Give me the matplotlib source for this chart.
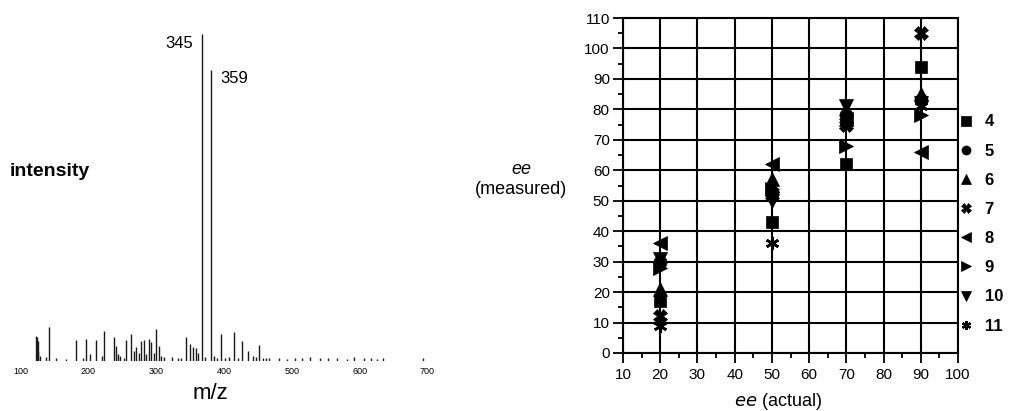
import matplotlib
matplotlib.use('Agg')
import matplotlib.pyplot as plt
from matplotlib.lines import Line2D
from matplotlib.transforms import ScaledTranslation

plt.rcParams['font.family'] = ['Liberation Sans', 'DejaVu Sans']

# ---------------- mass spectrum data ----------------
mz = [101, 102, 103, 104, 106, 115, 120, 130, 145, 160, 170, 174, 180, 189, 198,
      201, 216, 219, 222, 225, 230, 233, 241, 245, 248, 252, 256, 260, 263, 268,
      270, 274, 278, 282, 285, 290, 301, 310, 315, 322, 328, 332, 337, 340, 345,
      350, 359, 363, 367, 373, 380, 385, 392, 398, 405, 413, 420, 425, 429, 436,
      440, 445, 459, 471, 483, 493, 505, 520, 532, 545, 559, 569, 584, 594, 604,
      613, 671]
intensity = [7.6, 7.2, 6.0, 3.0, 1.5, 1.2, 10.4, 0.8, 0.6, 6.4, 1.0, 6.7, 2.0, 6.4, 1.5,
             9.2, 7.3, 4.6, 2.0, 1.5, 1.0, 6.4, 8.3, 3.0, 4.3, 2.5, 6.1, 6.4, 2.0, 6.7,
             5.8, 2.5, 9.8, 4.6, 1.5, 1.2, 1.2, 1.0, 0.8, 7.3, 5.2, 4.3, 4.0, 2.5, 100.0,
             1.2, 89.0, 1.5, 1.0, 8.3, 1.0, 1.2, 8.9, 1.0, 6.1, 3.1, 1.5, 1.2, 4.9, 0.9,
             1.0, 0.8, 0.9, 0.7, 1.0, 0.8, 1.1, 0.8, 0.9, 1.0, 0.7, 1.2, 0.8, 1.0, 0.7,
             0.8, 0.9]
mz_ticks = [100, 200, 300, 400, 500, 600, 700]
peak_mz = [345, 359]
peak_text = ['345', '359']

# ---------------- ee scatter data ----------------
ee_actual = [20, 50, 70, 90]
ee_4 = [17, 43, 62, 94]
ee_5 = [30, 53, 78, 83]
ee_6 = [21, 57, 77, 85]
ee_7 = [12, 52, 75, 105]
ee_8 = [36, 62, 77, 66]
ee_9 = [28, 54, 68, 78]
ee_10 = [31, 50, 81, 82]
ee_11 = [9, 36, 76, 81]
compound_names = ['4', '5', '6', '7', '8', '9', '10', '11']
ee_series = [ee_4, ee_5, ee_6, ee_7, ee_8, ee_9, ee_10, ee_11]
markers = ['s', 'o', '^', 'X', '<', '>', 'v', (6, 2, 0)]
msizes = [8.5, 9.5, 9.5, 9.5, 9.5, 9.5, 9.5, 9.5]

W, H = 1013, 411
fig = plt.figure(figsize=(W / 100, H / 100), dpi=100)

# ---------------- left: spectrum ----------------
axs = fig.add_axes([0, 1 - 361 / H, 460 / W, 341 / H])
axs.vlines(mz, 0, intensity, colors='#1a1a1a', linewidth=1.0)
axs.set_xlim(47.5, 726)
axs.set_ylim(0, 104.3)
for s in axs.spines.values():
    s.set_visible(False)
axs.set_yticks([])
axs.set_xticks(mz_ticks)
axs.set_xticklabels([str(t) for t in mz_ticks])
axs.tick_params(axis='x', length=0, pad=4, labelsize=6.5)
off = ScaledTranslation(-0.15, 0, fig.dpi_scale_trans)
for lab in axs.get_xticklabels():
    lab.set_transform(lab.get_transform() + off)
axs.annotate(peak_text[0], xy=(peak_mz[0], intensity[mz.index(peak_mz[0])]),
             xytext=(-6, -6.5), textcoords='offset points', ha='right', va='center',
             fontsize=12)
axs.annotate(peak_text[1], xy=(peak_mz[1], intensity[mz.index(peak_mz[1])]),
             xytext=(6.5, -6), textcoords='offset points', ha='left', va='center',
             fontsize=12)
fig.text(10 / W, 1 - 172 / H, 'intensity', fontsize=14, fontweight='bold',
         ha='left', va='center')
fig.text(210 / W, 1 - 393 / H, 'm/z', fontsize=16, ha='center', va='center')

# ---------------- right: ee scatter ----------------
ax = fig.add_axes([623 / W, 1 - 353 / H, 335 / W, 335 / H])
ax.set_xlim(10, 100)
ax.set_ylim(0, 110)
ax.set_xticks(range(10, 101, 10))
ax.set_yticks(range(0, 111, 10))
ax.set_xticks(range(15, 100, 10), minor=True)
ax.set_yticks(range(5, 110, 10), minor=True)
ax.grid(True, which='major', color='black', linewidth=1.5)
ax.set_axisbelow(True)
ax.tick_params(which='major', direction='out', length=7, width=1.3, labelsize=11,
               pad=3.5, color='black')
ax.tick_params(axis='y', which='major', pad=2.5)
ax.tick_params(which='minor', direction='out', length=3.5, width=1.3, color='black')
for s in ax.spines.values():
    s.set_linewidth(1.5)

for vals, m, msz in zip(ee_series, markers, msizes):
    ax.plot(ee_actual, vals, linestyle='none', marker=m, color='black',
            markersize=msz, markeredgewidth=1.9 if m == (6, 2, 0) else 0.5,
            zorder=3, clip_on=False)

handles = [Line2D([], [], linestyle='none', marker=m, color='black',
                  markersize=6.5, markeredgewidth=1.6 if m == (6, 2, 0) else 0.5)
           for m in markers]
leg = ax.legend(handles, compound_names, loc='center left',
                bbox_to_anchor=(1.0, (353 - 224) / 335), frameon=False,
                borderpad=0, borderaxespad=0, handlelength=1.0, handletextpad=0.6,
                labelspacing=0.85, prop={'weight': 'bold', 'size': 12})

fig.text(778 / W, 1 - 401 / H, r'$\it{ee}$ (actual)', fontsize=13,
         ha='center', va='center')
fig.text(521 / W, 1 - 170 / H, 'ee', fontsize=13, style='italic',
         ha='center', va='center')
fig.text(521 / W, 1 - 189 / H, '(measured)', fontsize=13, ha='center', va='center')

fig.savefig('out.png', dpi=100)
